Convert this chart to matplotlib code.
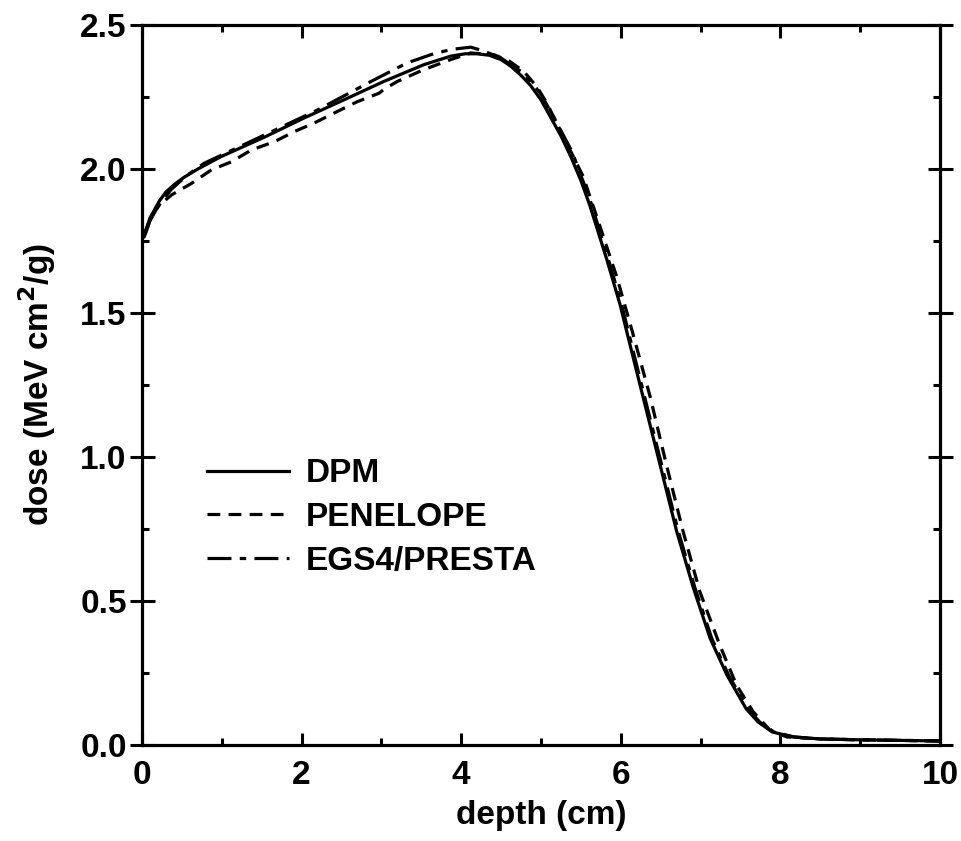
import matplotlib
matplotlib.use("Agg")
import matplotlib.pyplot as plt
from matplotlib.ticker import MultipleLocator, FormatStrFormatter

plt.rcParams['font.family'] = ['Liberation Sans', 'DejaVu Sans']
plt.rcParams['font.weight'] = 'bold'
plt.rcParams['mathtext.default'] = 'bf'

# DPM
dpm_x = [0.02, 0.05, 0.1, 0.16, 0.22, 0.3, 0.4, 0.52, 0.70, 0.99, 1.53, 2.03, 2.53, 3.03, 3.53,
         3.87, 4.05, 4.2, 4.35, 4.5, 4.63, 4.75, 4.87, 5.0, 5.12, 5.25, 5.37, 5.5, 5.61, 5.82, 5.99,
         6.16, 6.28, 6.49, 6.70, 6.91, 7.12, 7.33, 7.57, 7.72, 7.9, 8.16, 8.5, 9.0, 9.5, 10.0]
dpm_y = [1.77, 1.79, 1.83, 1.86, 1.89, 1.92, 1.945, 1.97, 2.00, 2.043, 2.11, 2.177, 2.24, 2.304, 2.362,
         2.392, 2.40, 2.40, 2.395, 2.38, 2.355, 2.325, 2.29, 2.24, 2.18, 2.115, 2.045, 1.96, 1.875, 1.69, 1.53,
         1.34, 1.207, 0.975, 0.742, 0.545, 0.37, 0.243, 0.126, 0.08, 0.045, 0.028, 0.021, 0.018, 0.016, 0.014]

# PENELOPE
pen_x = [0.02, 0.1, 0.2, 0.37, 0.62, 0.87, 1.12, 1.37, 1.66, 1.91, 2.16, 2.45, 2.7, 2.97, 3.05,
         3.2, 3.53, 3.87, 4.12, 4.41, 4.6, 4.78, 4.95, 5.07, 5.24, 5.53, 5.74, 5.95, 6.14, 6.37,
         6.57, 6.78, 6.99, 7.24, 7.45, 7.66, 7.87, 8.08, 8.5, 9.0, 9.5, 10.0]
pen_y = [1.77, 1.82, 1.87, 1.91, 1.95, 1.997, 2.025, 2.066, 2.095, 2.13, 2.16, 2.2, 2.234, 2.263, 2.28,
         2.304, 2.345, 2.38, 2.403, 2.397, 2.375, 2.34, 2.285, 2.23, 2.136, 1.973, 1.80, 1.625, 1.44, 1.207,
         0.975, 0.742, 0.533, 0.347, 0.208, 0.115, 0.051, 0.028, 0.021, 0.018, 0.016, 0.014]

# EGS4/PRESTA
egs_x = [0.02, 0.05, 0.1, 0.16, 0.25, 0.37, 0.55, 0.78, 1.45, 2.2, 2.87, 3.32, 3.62, 3.87, 4.12,
         4.28, 4.5, 4.78, 4.99, 5.14, 5.39, 5.63, 5.84, 6.01, 6.18, 6.30, 6.51, 6.72, 6.93, 7.14,
         7.35, 7.59, 7.74, 7.92, 8.17, 8.5, 9.0, 9.5, 10.0]
egs_y = [1.76, 1.78, 1.82, 1.85, 1.89, 1.93, 1.975, 2.02, 2.107, 2.205, 2.304, 2.368, 2.397, 2.415, 2.423,
         2.41, 2.385, 2.333, 2.264, 2.19, 2.06, 1.88, 1.69, 1.53, 1.34, 1.207, 0.975, 0.742, 0.545, 0.37,
         0.243, 0.126, 0.08, 0.045, 0.028, 0.021, 0.018, 0.016, 0.014]

fig = plt.figure(figsize=(9.61, 8.41), dpi=100)
ax = fig.add_axes([142 / 961, 1 - 745 / 841, 798 / 961, 720 / 841])

lw = 2.3
ax.plot(dpm_x, dpm_y, color='black', lw=lw, label='DPM')
ax.plot(pen_x, pen_y, color='black', lw=lw, dashes=(4, 2.6), label='PENELOPE')
ax.plot(egs_x, egs_y, color='black', lw=lw, dashes=(7.5, 2.6, 2, 2.6), label='EGS4/PRESTA')

ax.set_xlim(0, 10)
ax.set_ylim(0, 2.5)
ax.xaxis.set_major_locator(MultipleLocator(2))
ax.xaxis.set_minor_locator(MultipleLocator(1))
ax.yaxis.set_major_locator(MultipleLocator(0.5))
ax.yaxis.set_minor_locator(MultipleLocator(0.25))
ax.yaxis.set_major_formatter(FormatStrFormatter('%.1f'))

for sp in ax.spines.values():
    sp.set_linewidth(2.3)

fs = 24
ax.tick_params(which='both', top=True, right=True, direction='in', width=2.2, labelsize=fs)
ax.tick_params(which='major', length=9)
ax.tick_params(which='minor', length=5)
ax.tick_params(axis='y', which='major', left=True, direction='inout', length=18)
ax.tick_params(axis='y', which='major', right=True)
ax.tick_params(axis='x', pad=11)
ax.tick_params(axis='y', pad=2)

ax.set_xlabel('depth (cm)', fontsize=fs, fontweight='bold', labelpad=6)
ax.set_ylabel('dose (MeV cm$^{\\mathbf{2}}$/g)', fontsize=fs, fontweight='bold', labelpad=16)

leg = ax.legend(loc='upper left', bbox_to_anchor=(0.044, 0.44), frameon=False,
                fontsize=fs, handlelength=2.45, handletextpad=0.5, labelspacing=0.38)
for t in leg.get_texts():
    t.set_fontweight('bold')

fig.savefig('out.png', dpi=100)
